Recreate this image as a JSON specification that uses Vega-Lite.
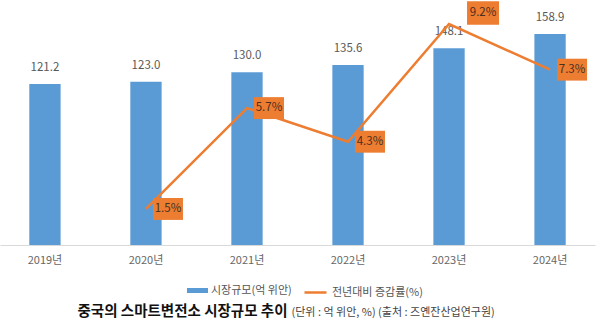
{
  "$schema": "https://vega.github.io/schema/vega-lite/v6.json",
  "width": 595,
  "height": 245,
  "autosize": {"type": "none"},
  "padding": {"left": 0, "top": 0, "right": 5, "bottom": 80},
  "background": "white",
  "config": {"view": {"stroke": null}, "font": "Noto Sans CJK KR"},
  "data": {
    "values": [
      {"year": "2019년", "market": 121.2, "growth": null},
      {"year": "2020년", "market": 123.0, "growth": 0.015},
      {"year": "2021년", "market": 130.0, "growth": 0.057},
      {"year": "2022년", "market": 135.6, "growth": 0.043},
      {"year": "2023년", "market": 148.1, "growth": 0.092},
      {"year": "2024년", "market": 158.9, "growth": 0.073}
    ]
  },
  "encoding": {
    "x": {
      "field": "year",
      "type": "ordinal",
      "sort": null,
      "scale": {"paddingInner": 0.69, "paddingOuter": 0.29},
      "axis": {
        "title": null,
        "labelAngle": 0,
        "ticks": false,
        "domainColor": "#d9d9d9",
        "domainWidth": 1,
        "labelColor": "#666666",
        "labelFontSize": 11,
        "labelPadding": 9,
        "labelFont": "Noto Sans CJK KR"
      }
    }
  },
  "layer": [
    {
      "layer": [
        {
          "mark": {"type": "bar", "color": "#5B9BD5"},
          "encoding": {
            "y": {
              "field": "market",
              "type": "quantitative",
              "scale": {"domain": [0, 184.5], "nice": false},
              "axis": {
                "orient": "left",
                "labels": false,
                "ticks": false,
                "domain": false,
                "grid": false,
                "title": "중국의 스마트변전소 시장규모 추이",
                "titleAngle": 0,
                "titleAlign": "left",
                "titleBaseline": "middle",
                "titleX": 77,
                "titleY": 311,
                "titleFont": "Noto Sans CJK KR",
                "titleFontSize": 14.5,
                "titleFontWeight": "bold",
                "titleColor": "#111111"
              }
            },
            "color": {
              "datum": "시장규모(억 위안)",
              "scale": {"range": ["#5B9BD5"]},
              "legend": {
                "orient": "none",
                "legendX": 187,
                "legendY": 280,
                "title": null,
                "padding": 0,
                "symbolType": "M-1,-0.24H1V0.24H-1Z",
                "symbolSize": 441,
                "symbolStrokeWidth": 0,
                "labelFont": "Noto Sans CJK KR",
                "labelFontSize": 11,
                "labelColor": "#555555",
                "labelOffset": 3
              }
            }
          }
        },
        {
          "mark": {"type": "text", "dy": -16, "color": "#595959", "fontSize": 11.5, "font": "Noto Sans CJK KR"},
          "encoding": {
            "y": {"field": "market", "type": "quantitative"},
            "text": {"field": "market", "type": "quantitative", "format": ".1f"}
          }
        }
      ]
    },
    {
      "layer": [
        {
          "mark": {"type": "line", "color": "#ED7D31", "strokeWidth": 2.5},
          "encoding": {
            "y": {
              "field": "growth",
              "type": "quantitative",
              "scale": {"domain": [0, 0.102], "nice": false},
              "axis": {
                "orient": "right",
                "labels": false,
                "ticks": false,
                "domain": false,
                "grid": false,
                "title": "(단위 : 억 위안, %) (출처 : 즈옌잔산업연구원)",
                "titleAngle": 0,
                "titleAlign": "left",
                "titleBaseline": "middle",
                "titleX": -304,
                "titleY": 312,
                "titleFont": "Noto Sans CJK KR",
                "titleFontSize": 11,
                "titleFontWeight": "normal",
                "titleColor": "#444444"
              }
            },
            "stroke": {
              "datum": "전년대비 증감률(%)",
              "scale": {"range": ["#ED7D31"]},
              "legend": {
                "orient": "none",
                "legendX": 303,
                "legendY": 280,
                "title": null,
                "padding": 0,
                "symbolType": "stroke",
                "symbolSize": 484,
                "symbolStrokeWidth": 2.5,
                "labelFont": "Noto Sans CJK KR",
                "labelFontSize": 11,
                "labelColor": "#555555",
                "labelOffset": 4
              }
            }
          }
        },
        {
          "transform": [{"filter": "datum.growth != null && datum.year != '2023년'"}],
          "mark": {"type": "point", "filled": true, "opacity": 1, "color": "#ED7D31", "shape": "M-1,-0.73H1V0.73H-1Z", "size": 900, "xOffset": 22, "strokeWidth": 0},
          "encoding": {"y": {"field": "growth", "type": "quantitative"}}
        },
        {
          "transform": [{"filter": "datum.growth != null && datum.year != '2023년'"}],
          "mark": {"type": "text", "dx": 22, "color": "#4a3020", "fontSize": 11.5, "font": "Noto Sans CJK KR"},
          "encoding": {
            "y": {"field": "growth", "type": "quantitative"},
            "text": {"field": "growth", "type": "quantitative", "format": ".1%"}
          }
        },
        {
          "transform": [{"filter": "datum.year == '2023년'"}],
          "mark": {"type": "point", "filled": true, "opacity": 1, "color": "#ED7D31", "shape": "M-1,-0.73H1V0.73H-1Z", "size": 1024, "xOffset": 34, "yOffset": -11, "strokeWidth": 0},
          "encoding": {"y": {"field": "growth", "type": "quantitative"}}
        },
        {
          "transform": [{"filter": "datum.year == '2023년'"}],
          "mark": {"type": "text", "dx": 34, "dy": -11, "color": "#4a3020", "fontSize": 11.5, "font": "Noto Sans CJK KR"},
          "encoding": {
            "y": {"field": "growth", "type": "quantitative"},
            "text": {"field": "growth", "type": "quantitative", "format": ".1%"}
          }
        }
      ]
    }
  ],
  "resolve": {"scale": {"y": "independent"}}
}
